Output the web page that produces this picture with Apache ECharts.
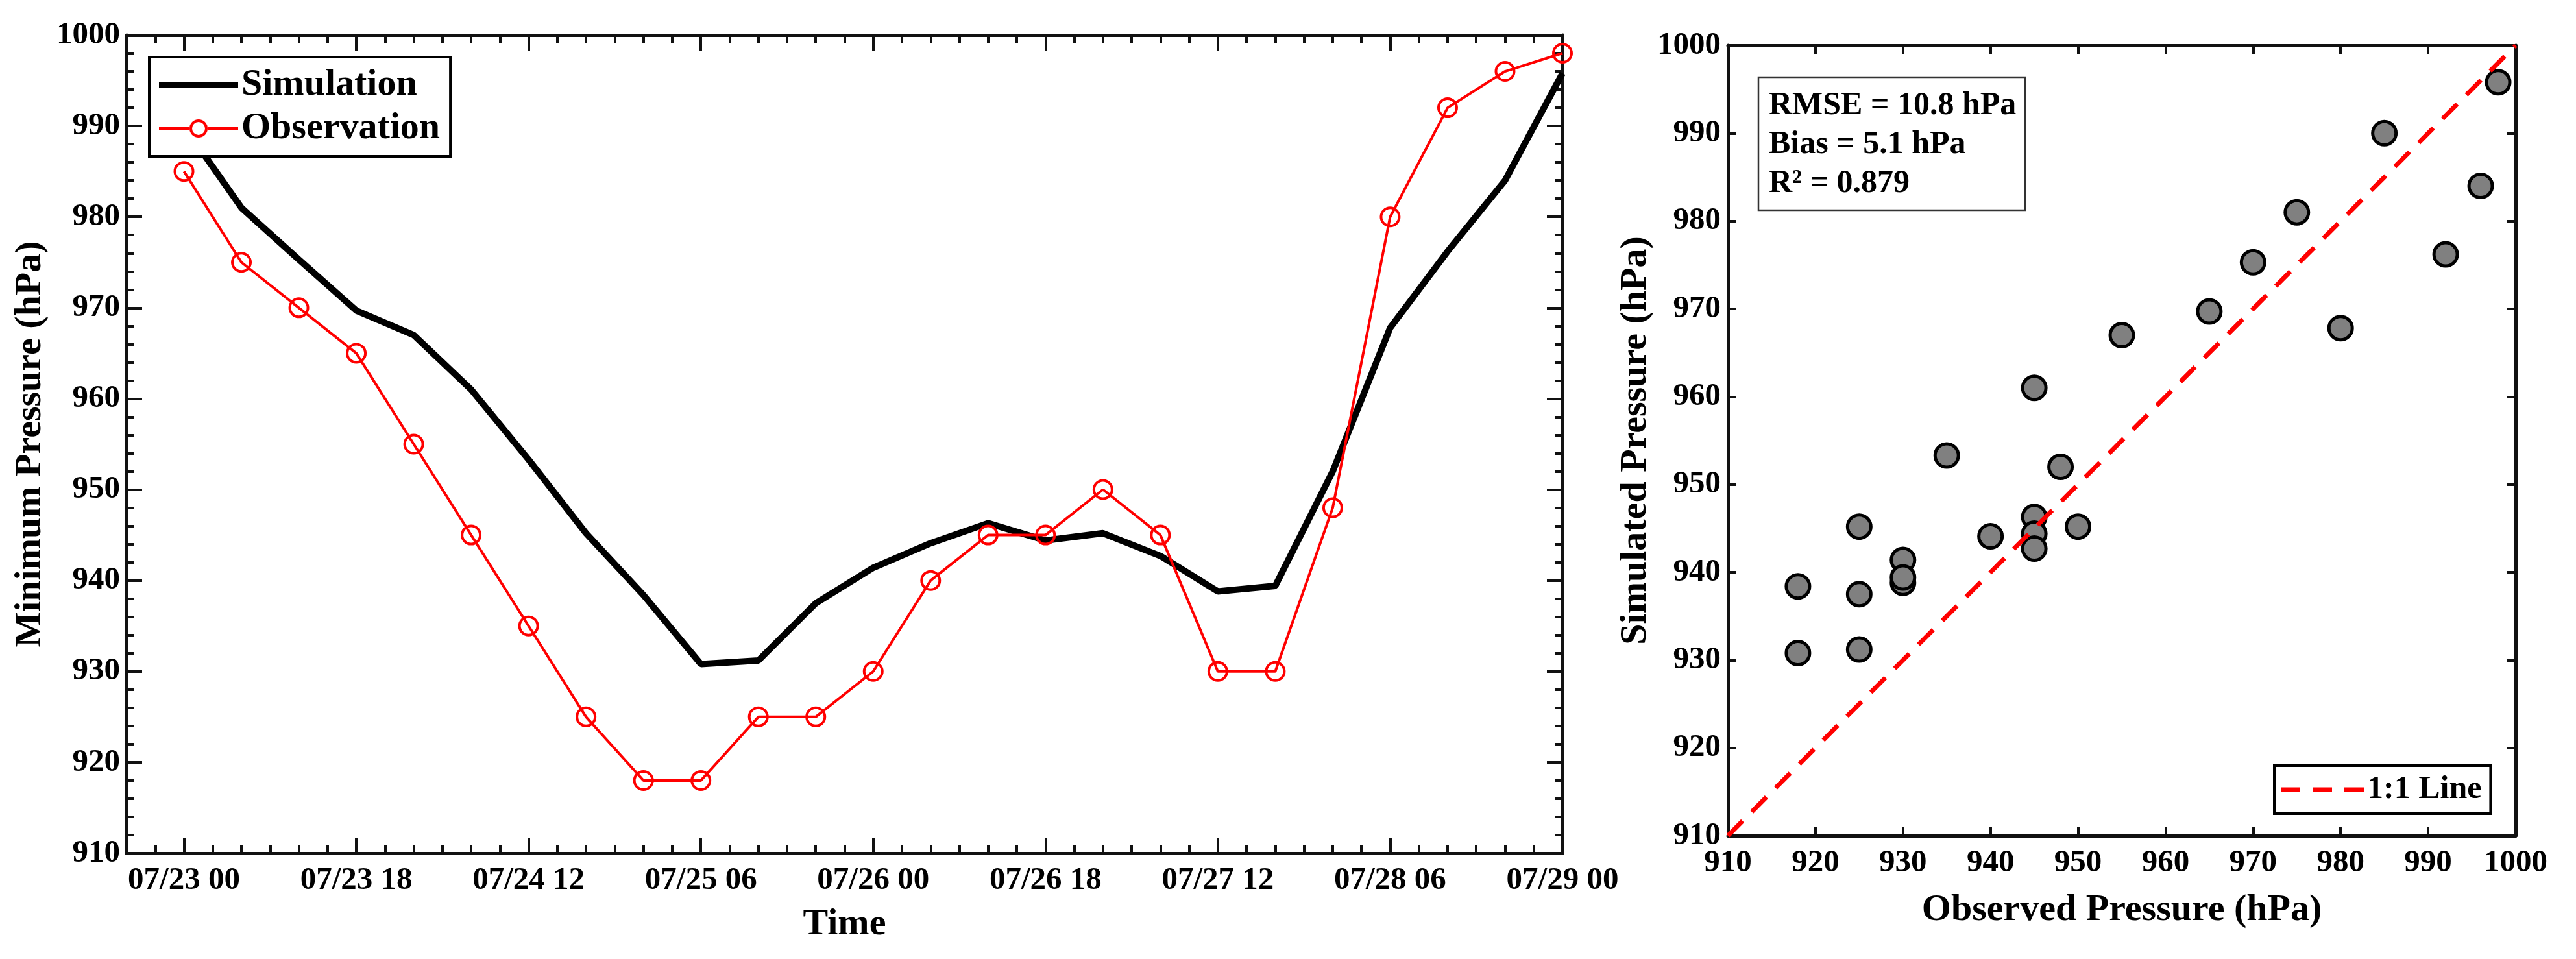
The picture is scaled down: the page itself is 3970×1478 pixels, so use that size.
<!DOCTYPE html>
<html>
<head>
<meta charset="utf-8">
<script src="https://cdn.jsdelivr.net/npm/echarts@6/dist/echarts.min.js"></script>
<style>
  html, body { margin: 0; padding: 0; background: #fff; }
  #chart { width: 3970px; height: 1478px; }
</style>
</head>
<body>
<div id="chart"></div>
<script>
// hours after 07/23 00 UTC, every 6 h
const hours = [0, 6, 12, 18, 24, 30, 36, 42, 48, 54, 60, 66, 72, 78, 84, 90, 96, 102, 108, 114, 120, 126, 132, 138, 144]
const simulation = [990, 981, 975.3, 969.7, 967, 961, 953.3, 945.2, 938.4, 930.8, 931.2, 937.5, 941.4, 944.1, 946.3, 944.4, 945.2, 942.7, 938.8, 939.4, 952, 967.8, 976.2, 984, 995.8]
const observation = [985, 975, 970, 965, 955, 945, 935, 925, 918, 918, 925, 925, 930, 940, 945, 945, 950, 945, 930, 930, 948, 980, 992, 996, 998]

const tickHours = [0, 18, 36, 54, 72, 90, 108, 126, 144]
const tickLabels = ['07/23 00', '07/23 18', '07/24 12', '07/25 06', '07/26 00', '07/26 18', '07/27 12', '07/28 06', '07/29 00']

const oneToOne = [910, 1000]
const statLines = ['RMSE = 10.8 hPa', 'Bias = 5.1 hPa', 'R\u00b2 = 0.879']

const FONT = '"Liberation Serif", "Times New Roman", serif'
const tickFont = { fontFamily: FONT, fontWeight: 'bold', fontSize: 49, color: '#000' }
const nameFont = { fontFamily: FONT, fontWeight: 'bold', fontSize: 58, color: '#000' }
const plain = v => String(v)

// legend samples (drawn in itemWidth x itemHeight boxes)
const iconThickLine = 'path://M0,0 L122,0 L122,10 L0,10 Z'
const iconLineCircle = 'path://M0,13 L47,13 L47,17 L0,17 Z M75,13 L122,13 L122,17 L75,17 Z ' +
  'M47,15 A14,14 0 1,0 75,15 A14,14 0 1,0 47,15 Z M51,15 A10,10 0 1,1 71,15 A10,10 0 1,1 51,15 Z'
const iconDashed = 'path://M0,0 L30,0 L30,7 L0,7 Z M49,0 L79,0 L79,7 L49,7 Z M98,0 L128,0 L128,7 L98,7 Z'

const chart = echarts.init(document.getElementById('chart'), null, { renderer: 'canvas' })

function frameAxis(extra) {
  return Object.assign({
    axisLine: { show: true, onZero: false, lineStyle: { color: '#111', width: 5 } },
    axisTick: { show: true, inside: true, length: 24, lineStyle: { color: '#111', width: 4 } },
    axisLabel: { show: false },
    splitLine: { show: false }
  }, extra)
}

const xAxes = [
  // left plot: minor ticks (3 h), bottom and top
  frameAxis({ gridIndex: 0, type: 'value', position: 'bottom', min: -6, max: 144, interval: 3,
    axisTick: { show: true, inside: true, length: 12, lineStyle: { color: '#111', width: 4 } } }),
  frameAxis({ gridIndex: 0, type: 'value', position: 'top', min: -6, max: 144, interval: 3,
    axisTick: { show: true, inside: true, length: 12, lineStyle: { color: '#111', width: 4 } } }),
  // left plot: major ticks + labels
  frameAxis({ gridIndex: 0, type: 'value', position: 'bottom', min: -6, max: 144,
    axisLine: { show: false },
    axisTick: { show: true, inside: true, length: 24, customValues: tickHours, lineStyle: { color: '#111', width: 4 } },
    axisLabel: Object.assign({ show: true, margin: 18, customValues: tickHours,
      formatter: v => tickLabels[tickHours.indexOf(v)] || '' }, tickFont),
    name: 'Time', nameLocation: 'middle', nameGap: 81, nameTextStyle: nameFont }),
  frameAxis({ gridIndex: 0, type: 'value', position: 'top', min: -6, max: 144,
    axisLine: { show: false },
    axisTick: { show: true, inside: true, length: 24, customValues: tickHours, lineStyle: { color: '#111', width: 4 } } }),
  // right plot
  frameAxis({ gridIndex: 1, type: 'value', position: 'bottom', min: 910, max: 1000, interval: 10,
    axisTick: { show: true, inside: true, length: 13, lineStyle: { color: '#111', width: 4 } },
    axisLabel: Object.assign({ show: true, margin: 18, formatter: plain }, tickFont),
    name: 'Observed Pressure (hPa)', nameLocation: 'middle', nameGap: 86, nameTextStyle: nameFont }),
  frameAxis({ gridIndex: 1, type: 'value', position: 'top', min: 910, max: 1000, interval: 10,
    axisTick: { show: true, inside: true, length: 13, lineStyle: { color: '#111', width: 4 } } })
]

const yAxes = [
  frameAxis({ gridIndex: 0, type: 'value', position: 'left', min: 910, max: 1000, interval: 10,
    minorTick: { show: true, splitNumber: 5, length: 12, lineStyle: { color: '#111', width: 4 } },
    axisLabel: Object.assign({ show: true, margin: 10, formatter: plain }, tickFont),
    name: 'Minimum Pressure (hPa)', nameLocation: 'middle', nameGap: 92, nameTextStyle: nameFont }),
  frameAxis({ gridIndex: 0, type: 'value', position: 'right', min: 910, max: 1000, interval: 10,
    minorTick: { show: true, splitNumber: 5, length: 12, lineStyle: { color: '#111', width: 4 } } }),
  frameAxis({ gridIndex: 1, type: 'value', position: 'left', min: 910, max: 1000, interval: 10,
    axisTick: { show: true, inside: true, length: 13, lineStyle: { color: '#111', width: 4 } },
    axisLabel: Object.assign({ show: true, margin: 11, formatter: plain }, tickFont),
    name: 'Simulated Pressure (hPa)', nameLocation: 'middle', nameGap: 97, nameTextStyle: nameFont }),
  frameAxis({ gridIndex: 1, type: 'value', position: 'right', min: 910, max: 1000, interval: 10,
    axisTick: { show: true, inside: true, length: 13, lineStyle: { color: '#111', width: 4 } } })
]

const statText = statLines.map((t, i) => ({
  type: 'text',
  left: 2726, top: 163 + i * 60 - 25,
  style: { text: t, fontFamily: FONT, fontWeight: 'bold', fontSize: 50, fill: '#000' },
  z: 101
}))

chart.setOption({
  animation: false,
  backgroundColor: '#fff',
  grid: [
    { left: 195, top: 54, width: 2213, height: 1261, containLabel: false },
    { left: 2663, top: 70, width: 1214, height: 1218, containLabel: false }
  ],
  xAxis: xAxes,
  yAxis: yAxes,
  legend: [
    {
      data: [
        { name: 'Simulation', icon: iconThickLine, itemStyle: { color: '#000', borderWidth: 0 } },
        { name: 'Observation', icon: iconLineCircle, itemStyle: { color: '#ff0000', borderWidth: 0 } }
      ],
      orient: 'vertical',
      left: 230, top: 88,
      padding: [14, 16, 14, 15],
      itemWidth: 122, itemHeight: 30, itemGap: 9,
      symbolKeepAspect: true,
      backgroundColor: '#fff',
      borderColor: '#000', borderWidth: 4,
      selectedMode: false,
      textStyle: { fontFamily: FONT, fontWeight: 'bold', fontSize: 58, color: '#000', lineHeight: 58 }
    },
    {
      data: [
        { name: '1:1 Line', icon: iconDashed, itemStyle: { color: '#ff0000', borderWidth: 0 } }
      ],
      left: 3505, top: 1180,
      padding: [12, 14, 12, 10],
      itemWidth: 128, itemHeight: 30,
      symbolKeepAspect: true,
      backgroundColor: '#fff',
      borderColor: '#000', borderWidth: 4,
      selectedMode: false,
      textStyle: { fontFamily: FONT, fontWeight: 'bold', fontSize: 50, color: '#000', lineHeight: 50 }
    }
  ],
  graphic: [
    {
      type: 'rect',
      shape: { x: 2710, y: 119, width: 411, height: 205 },
      style: { fill: '#fff', stroke: '#333', lineWidth: 2.5 },
      z: 100
    }
  ].concat(statText),
  series: [
    {
      name: 'Simulation', type: 'line', xAxisIndex: 0, yAxisIndex: 0,
      data: hours.map((h, i) => [h, simulation[i]]),
      symbol: 'none',
      lineStyle: { color: '#000', width: 10 },
      itemStyle: { color: '#000' },
      z: 2
    },
    {
      name: 'Observation', type: 'line', xAxisIndex: 0, yAxisIndex: 0,
      data: hours.map((h, i) => [h, observation[i]]),
      symbol: 'circle', symbolSize: 28,
      lineStyle: { color: '#ff0000', width: 4 },
      itemStyle: { color: 'rgba(255,255,255,0)', borderColor: '#ff0000', borderWidth: 4 },
      z: 3
    },
    {
      name: 'Scatter', type: 'scatter', xAxisIndex: 4, yAxisIndex: 2,
      data: observation.map((o, i) => [o, simulation[i]]),
      symbolSize: 36,
      itemStyle: { color: '#808080', borderColor: '#000', borderWidth: 5, opacity: 1 },
      z: 2
    },
    {
      name: '1:1 Line', type: 'line', xAxisIndex: 4, yAxisIndex: 2,
      data: [[oneToOne[0], oneToOne[0]], [oneToOne[1], oneToOne[1]]],
      symbol: 'none',
      lineStyle: { color: '#ff0000', width: 7, type: [32, 20] },
      itemStyle: { color: '#ff0000' },
      z: 3
    }
  ]
})
</script>
</body>
</html>
